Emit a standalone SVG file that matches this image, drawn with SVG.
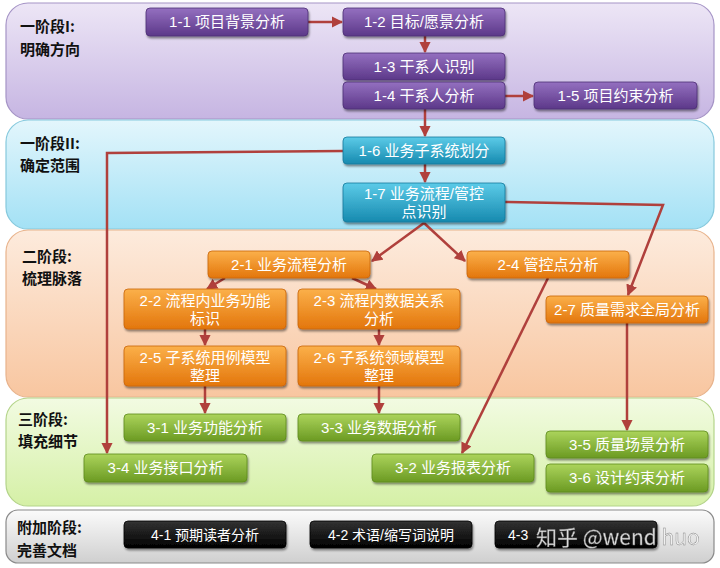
<svg xmlns="http://www.w3.org/2000/svg" width="720" height="568" viewBox="0 0 720 568">
<defs>
<linearGradient id="gb1" x1="0" y1="0" x2="0" y2="1"><stop offset="0" stop-color="#ede6f6"/><stop offset="1" stop-color="#c6b5e2"/></linearGradient>
<linearGradient id="gb2" x1="0" y1="0" x2="0" y2="1"><stop offset="0" stop-color="#e3f6fc"/><stop offset="1" stop-color="#a3e1f5"/></linearGradient>
<linearGradient id="gb3" x1="0" y1="0" x2="0" y2="1"><stop offset="0" stop-color="#fdebdd"/><stop offset="1" stop-color="#f8c6a0"/></linearGradient>
<linearGradient id="gb4" x1="0" y1="0" x2="0" y2="1"><stop offset="0" stop-color="#f2fbe2"/><stop offset="1" stop-color="#d5f0a6"/></linearGradient>
<linearGradient id="gb5" x1="0" y1="0" x2="0" y2="1"><stop offset="0" stop-color="#fbfbfb"/><stop offset="1" stop-color="#cfcfcf"/></linearGradient>
<linearGradient id="gp" x1="0" y1="0" x2="0" y2="1"><stop offset="0" stop-color="#9470c0"/><stop offset="1" stop-color="#5c3889"/></linearGradient>
<linearGradient id="gc" x1="0" y1="0" x2="0" y2="1"><stop offset="0" stop-color="#5ccbe8"/><stop offset="1" stop-color="#168aaf"/></linearGradient>
<linearGradient id="go" x1="0" y1="0" x2="0" y2="1"><stop offset="0" stop-color="#fbb04a"/><stop offset="1" stop-color="#e3760c"/></linearGradient>
<linearGradient id="gg" x1="0" y1="0" x2="0" y2="1"><stop offset="0" stop-color="#acd45c"/><stop offset="1" stop-color="#6b9a22"/></linearGradient>
<linearGradient id="gk" x1="0" y1="0" x2="0" y2="1"><stop offset="0" stop-color="#333"/><stop offset="1" stop-color="#000"/></linearGradient>
<filter id="sh" x="-10%" y="-20%" width="120%" height="150%"><feDropShadow dx="1" dy="2" stdDeviation="1.2" flood-color="#000" flood-opacity="0.45"/></filter>
<marker id="ar" viewBox="0 0 10 10" refX="9" refY="5" markerWidth="4.5" markerHeight="4.5" orient="auto"><path d="M0,0 L10,5 L0,10 z" fill="#b0403c"/></marker>
<style>
.band{stroke-width:1.2}
.stage{font-family:"Noto Sans CJK SC","Noto Sans",sans-serif;font-size:15px;font-weight:bold;fill:#111}
.node rect{filter:url(#sh);stroke-width:0.8}
.p rect{fill:url(#gp);stroke:#4d2d75}
.c rect{fill:url(#gc);stroke:#137a9c}
.o rect{fill:url(#go);stroke:#c9650a}
.g rect{fill:url(#gg);stroke:#5d8a1c}
.k rect{fill:url(#gk);stroke:#000}
.node text{font-family:"Liberation Sans","Noto Sans CJK SC",sans-serif;font-size:15px;fill:#fff;text-anchor:middle}
.k text{font-size:14px}
.cn{fill:none;stroke:#b0403c;stroke-width:2.5;marker-end:url(#ar)}
</style>
</defs>

<g id="bands">
<rect class="band" x="6" y="3" width="708" height="116" rx="22" fill="url(#gb1)" stroke="#a594c6"/>
<rect class="band" x="6" y="120" width="708" height="109" rx="22" fill="url(#gb2)" stroke="#86c9dd"/>
<rect class="band" x="6" y="230" width="708" height="167" rx="22" fill="url(#gb3)" stroke="#e8b38c"/>
<rect class="band" x="6" y="398" width="708" height="108" rx="22" fill="url(#gb4)" stroke="#b4d48a"/>
<rect class="band" x="6" y="510" width="708" height="53" rx="12" fill="url(#gb5)" stroke="#8a8a8a"/>
<text class="stage" x="20" y="32">一阶段I:</text>
<text class="stage" x="20" y="55">明确方向</text>
<text class="stage" x="20" y="149">一阶段II:</text>
<text class="stage" x="20" y="171">确定范围</text>
<text class="stage" x="22" y="262">二阶段:</text>
<text class="stage" x="22" y="284">梳理脉落</text>
<text class="stage" x="18" y="425">三阶段:</text>
<text class="stage" x="18" y="447">填充细节</text>
<text class="stage" x="17" y="533">附加阶段:</text>
<text class="stage" x="17" y="556">完善文档</text>
</g>

<g id="connectors">
<path class="cn" d="M308,22 L342,22"/>
<path class="cn" d="M425,36 L425,52"/>
<path class="cn" d="M505,96 L533,96"/>
<path class="cn" d="M425,109 L425,136"/>
<path class="cn" d="M425,164 L425,182"/>
<path class="cn" d="M343,151 L107,153 L107,453"/>
<path class="cn" d="M505,202 L663,205 L628,295"/>
<path class="cn" d="M424,223 L372,261"/>
<path class="cn" d="M424,223 L465,261"/>
<path class="cn" d="M225,278 L207,289"/>
<path class="cn" d="M352,278 L376,289"/>
<path class="cn" d="M205,329 L205,345"/>
<path class="cn" d="M379,329 L379,345"/>
<path class="cn" d="M205,386 L205,413"/>
<path class="cn" d="M379,386 L379,413"/>
<path class="cn" d="M548,278 L462,453"/>
<path class="cn" d="M627,323 L627,430"/>
</g>

<g id="n11" class="node p"><rect x="146" y="8" width="162" height="28" rx="4"/><text x="227" y="27">1-1 项目背景分析</text></g>
<g id="n12" class="node p"><rect x="343" y="8" width="162" height="28" rx="4"/><text x="424" y="27">1-2 目标/愿景分析</text></g>
<g id="n13" class="node p"><rect x="343" y="53" width="162" height="27" rx="4"/><text x="424" y="72">1-3 干系人识别</text></g>
<g id="n14" class="node p"><rect x="343" y="82" width="162" height="27" rx="4"/><text x="424" y="101">1-4 干系人分析</text></g>
<g id="n15" class="node p"><rect x="534" y="82" width="163" height="27" rx="4"/><text x="615.5" y="101">1-5 项目约束分析</text></g>

<g id="n16" class="node c"><rect x="343" y="137" width="162" height="27" rx="4"/><text x="424" y="156">1-6 业务子系统划分</text></g>
<g id="n17" class="node c"><rect x="343" y="183" width="162" height="39" rx="4"/><text x="424" y="199">1-7 业务流程/管控</text><text x="424" y="217">点识别</text></g>

<g id="n21" class="node o"><rect x="208" y="251" width="162" height="27" rx="4"/><text x="289" y="270">2-1 业务流程分析</text></g>
<g id="n24" class="node o"><rect x="467" y="251" width="162" height="27" rx="4"/><text x="548" y="270">2-4 管控点分析</text></g>
<g id="n22" class="node o"><rect x="124" y="289" width="162" height="40" rx="4"/><text x="205" y="306">2-2 流程内业务功能</text><text x="205" y="324">标识</text></g>
<g id="n23" class="node o"><rect x="298" y="289" width="162" height="40" rx="4"/><text x="379" y="306">2-3 流程内数据关系</text><text x="379" y="324">分析</text></g>
<g id="n27" class="node o"><rect x="546" y="296" width="162" height="27" rx="4"/><text x="627" y="315">2-7 质量需求全局分析</text></g>
<g id="n25" class="node o"><rect x="124" y="346" width="162" height="40" rx="4"/><text x="205" y="363">2-5 子系统用例模型</text><text x="205" y="381">整理</text></g>
<g id="n26" class="node o"><rect x="298" y="346" width="162" height="40" rx="4"/><text x="379" y="363">2-6 子系统领域模型</text><text x="379" y="381">整理</text></g>

<g id="n31" class="node g"><rect x="124" y="414" width="162" height="27" rx="4"/><text x="205" y="433">3-1 业务功能分析</text></g>
<g id="n33" class="node g"><rect x="298" y="414" width="162" height="27" rx="4"/><text x="379" y="433">3-3 业务数据分析</text></g>
<g id="n35" class="node g"><rect x="546" y="431" width="162" height="27" rx="4"/><text x="627" y="450">3-5 质量场景分析</text></g>
<g id="n34" class="node g"><rect x="84" y="454" width="163" height="28" rx="4"/><text x="165.5" y="473">3-4 业务接口分析</text></g>
<g id="n32" class="node g"><rect x="372" y="454" width="162" height="28" rx="4"/><text x="453" y="473">3-2 业务报表分析</text></g>
<g id="n36" class="node g"><rect x="546" y="464" width="162" height="28" rx="4"/><text x="627" y="483">3-6 设计约束分析</text></g>

<g id="n41" class="node k"><rect x="124" y="521" width="162" height="27" rx="4"/><text x="205" y="540">4-1 预期读者分析</text></g>
<g id="n42" class="node k"><rect x="310" y="521" width="162" height="27" rx="4"/><text x="391" y="540">4-2 术语/缩写词说明</text></g>
<g id="n43" class="node k"><rect x="495" y="521" width="162" height="27" rx="4"/><text x="508" y="540" style="text-anchor:start">4-3</text></g>

<text x="536" y="545" font-family="'Noto Sans CJK SC','Noto Sans',sans-serif" font-size="21" fill="#f2f2f2" stroke="#777" stroke-width="0.4" opacity="0.92">知乎 @wend huo</text>
</svg>
